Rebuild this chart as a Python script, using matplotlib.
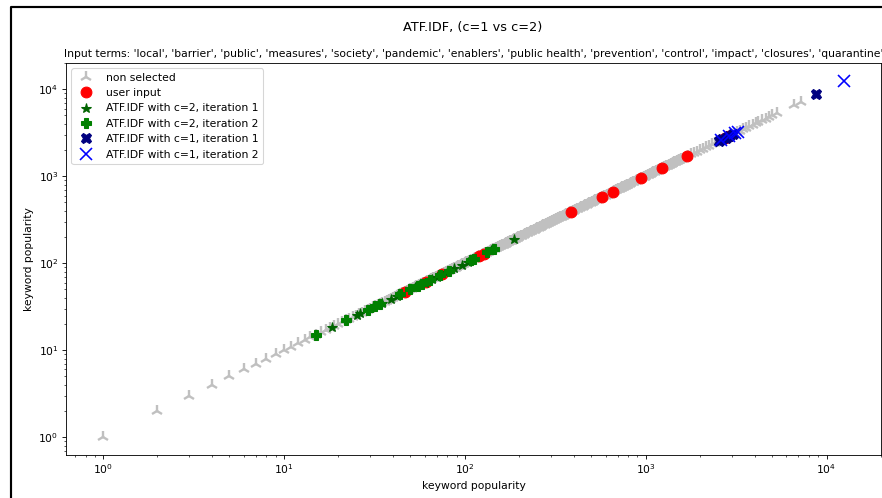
import matplotlib.pyplot as plt
from matplotlib.lines import Line2D

# keyword popularity values (same value is used on both axes)
non_selected = [1, 2, 3, 4, 5, 6, 7, 8, 9, 10, 11, 12, 13, 14, 15, 16, 17, 18, 19, 20,
                21, 22, 23, 24, 25, 26, 27, 28, 29, 30, 31, 32, 33, 34, 35, 36, 37, 38, 39, 40,
                41, 42, 43, 44, 45, 46, 47, 48, 49, 50, 51, 52, 53, 54, 55, 56, 57, 58, 59, 60,
                61, 62, 63, 64, 65, 66, 67, 68, 69, 70, 71, 72, 73, 74, 75, 76, 77, 78, 79, 80,
                81, 82, 83, 84, 85, 86, 87, 88, 89, 90, 91, 92, 93, 94, 95, 96, 97, 98, 99,
                100, 102, 104, 106, 108, 110, 112, 114, 116, 118, 120, 122, 124, 126, 128, 130,
                132, 134, 136, 138, 140, 142, 144, 146, 148, 150, 152, 154, 156, 158, 160, 162,
                164, 166, 168, 170, 172, 174, 176, 178, 180, 182, 184, 186, 188, 190, 192, 194,
                196, 198, 200, 204, 208, 212, 216, 220, 224, 228, 232, 236, 240, 244, 248, 252,
                256, 260, 264, 268, 272, 276, 280, 284, 288, 292, 296, 300, 304, 308, 312, 316,
                320, 324, 328, 332, 336, 340, 344, 348, 352, 356, 360, 364, 368, 372, 376, 380,
                384, 388, 392, 396, 400, 408, 416, 424, 432, 440, 448, 456, 464, 472, 480, 488,
                496, 504, 512, 520, 528, 536, 544, 552, 560, 568, 576, 584, 592, 600, 608, 616,
                624, 632, 640, 648, 656, 664, 672, 680, 688, 696, 704, 712, 720, 728, 736, 744,
                752, 760, 768, 776, 784, 792, 800, 816, 832, 848, 864, 880, 896, 912, 928, 944,
                960, 976, 992, 1008, 1024, 1040, 1056, 1072, 1088, 1104, 1120, 1136, 1152, 1168,
                1184, 1200, 1216, 1232, 1248, 1264, 1280, 1296, 1312, 1328, 1344, 1360, 1376,
                1392, 1408, 1424, 1440, 1456, 1472, 1488, 1504, 1520, 1536, 1552, 1568, 1584,
                1640, 1710, 1780, 1850, 1920, 2000, 2080, 2160, 2250, 2340, 2430, 2530, 2630,
                2740, 2850, 2960, 3080, 3200, 3330, 3460, 3600, 3750, 3900, 4050, 4200, 4400,
                4600, 4800, 5000, 5300, 6600, 7200]
user_input = [47, 61, 75, 120, 128, 388, 574, 657, 948, 1233, 1687, 2760, 2900]
c2_iter1 = [18.5, 25.5, 26.5, 31, 33, 35, 39, 42, 53, 56, 60, 66, 70, 80, 87, 96, 104, 140, 188]
c2_iter2 = [15, 22, 29, 32, 34, 44, 50, 55, 58, 64, 73, 82, 108, 112, 133, 145]
c1_iter1 = [2560, 2650, 2785, 2900, 3030, 8800]
c1_iter2 = [2620, 2880, 3100, 3230, 12500]

terms = ['local', 'barrier', 'public', 'measures', 'society', 'pandemic', 'enablers',
         'public health', 'prevention', 'control', 'impact', 'closures', 'quarantine']

DPI = 77.5
fig = plt.figure(figsize=(882 / DPI + 0.001, 498 / DPI + 0.0002), dpi=DPI)
ax = fig.add_axes([66 / 882, 1 - 455 / 498, 815 / 882, 392 / 498])

ax.plot(non_selected, non_selected, '2', color='silver', markersize=11, markeredgewidth=2.2,
        label='non selected')
ax.plot(user_input, user_input, 'o', color='red', markersize=10, label='user input')
ax.plot(c2_iter1, c2_iter1, '*', color='darkgreen', markersize=9, label='ATF.IDF with c=2, iteration 1')
ax.plot(c2_iter2, c2_iter2, 'P', color='green', markersize=10, label='ATF.IDF with c=2, iteration 2')
ax.plot(c1_iter1, c1_iter1, 'X', color='navy', markersize=10, label='ATF.IDF with c=1, iteration 1')
ax.plot(c1_iter2, c1_iter2, 'x', color='blue', markersize=11, markeredgewidth=1.5,
        label='ATF.IDF with c=1, iteration 2')

ax.set_xscale('log')
ax.set_yscale('log')
ax.set_xlabel('keyword popularity')
ax.set_ylabel('keyword popularity')
ax.set_title('Input terms: ' + ', '.join("'%s'" % t for t in terms), fontsize=10)
ax.legend(loc='upper left')

fig.text(473 / 882, 1 - 27 / 498, 'ATF.IDF, (c=1 vs c=2)', ha='center', va='center', fontsize=12)

# screenshot frame
fig.add_artist(Line2D([11 / 882, 11 / 882, 1], [0, 1 - 7 / 498, 1 - 7 / 498],
                      transform=fig.transFigure, color='black', linewidth=2))

fig.savefig('out.png', dpi=DPI)
